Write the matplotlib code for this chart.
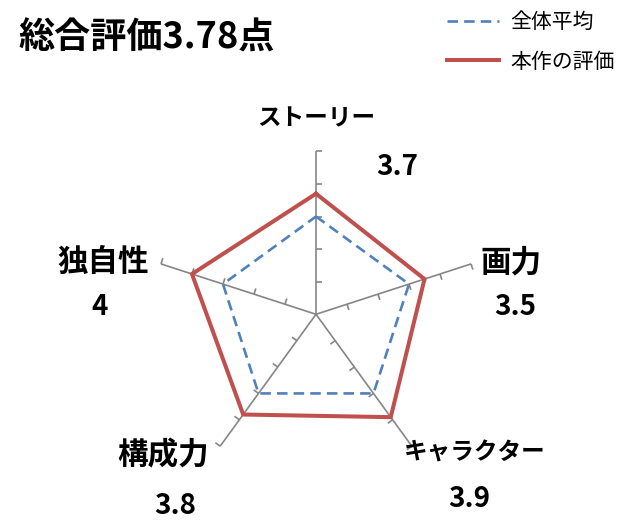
import numpy as np
import matplotlib
matplotlib.use('Agg')
import matplotlib.pyplot as plt
from matplotlib.lines import Line2D

plt.rcParams['font.family'] = ['Noto Sans CJK JP', 'DejaVu Sans']

# ---- data ----
categories = ['ストーリー', '画力', 'キャラクター', '構成力', '独自性']
average = [3.0, 3.0, 3.0, 3.0, 3.0]
this_work = [3.7, 3.5, 3.9, 3.8, 4.0]
value_labels = ['3.7', '3.5', '3.9', '3.8', '4']
r_ticks = [1, 2, 3, 4, 5]
r_max = 5
title = '総合評価3.78点'
series_names = ['全体平均', '本作の評価']

RED = '#C0504D'
BLUE = '#4F81BD'
GRAY = '#868686'

W, H, dpi = 632, 529, 100
fig = plt.figure(figsize=(W / dpi, H / dpi), dpi=dpi)
ax = fig.add_axes([0, 0, 1, 1])
cx, cy, scale = 316, 314.3, 32.6
ax.set_xlim(-cx / scale, (W - cx) / scale)
ax.set_ylim(-(H - cy) / scale, cy / scale)
ax.axis('off')


def P(px, py):
    return ((px - cx) / scale, (cy - py) / scale)


n = len(categories)
angles = np.deg2rad(90 - 360 / n * np.arange(n))
dirs = np.c_[np.cos(angles), np.sin(angles)]

# spokes + tick marks
L = 6 / scale
for d in dirs:
    ax.plot([0, r_max * d[0]], [0, r_max * d[1]], color=GRAY, lw=1.2, zorder=1,
            solid_capstyle='butt')
    nrm = np.array([d[1], -d[0]])
    for t in r_ticks:
        p = t * d
        ax.plot([p[0], p[0] + L * nrm[0]], [p[1], p[1] + L * nrm[1]],
                color=GRAY, lw=1.2, zorder=1, solid_capstyle='butt')


def closed(vals):
    v = np.asarray(vals, dtype=float)
    x = v * dirs[:, 0]
    y = v * dirs[:, 1]
    return np.r_[x, x[0]], np.r_[y, y[0]]


xa, ya = closed(average)
la, = ax.plot(xa, ya, color=BLUE, lw=1.9, dashes=(4, 2.3), zorder=2,
              label=series_names[0])
xb, yb = closed(this_work)
lb, = ax.plot(xb, yb, color=RED, lw=2.9, zorder=3, solid_joinstyle='miter',
              label=series_names[1])

# category labels and value labels
cat_pos = [(316, 118), (511, 263), (475, 453), (163, 455), (103, 262)]
val_pos = [(397, 167), (515, 307), (469, 499), (175, 506), (100, 307)]
cat_size = [17, 22, 17, 22, 22]
for c, v, cp, vp, fs in zip(categories, value_labels, cat_pos, val_pos, cat_size):
    ax.text(*P(*cp), c, ha='center', va='center', fontsize=fs, fontweight='bold')
    ax.text(*P(*vp), v, ha='center', va='center', fontsize=20, fontweight='bold')

# title
ax.text(*P(18, 38), title, ha='left', va='center', fontsize=26, fontweight='bold')

# legend
fig.legend(handles=[la, lb], labels=series_names, loc='upper left',
           bbox_to_anchor=(447 / W, 1 - 11 / H), frameon=False, borderpad=0,
           borderaxespad=0, handlelength=2.5, handletextpad=0.55,
           labelspacing=0.85, prop={'size': 15})

fig.savefig('out.png', dpi=dpi)
